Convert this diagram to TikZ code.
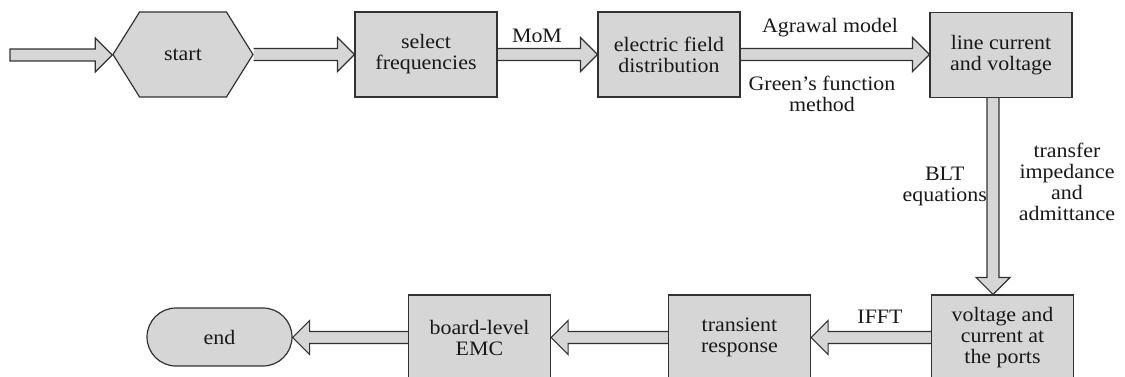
\documentclass[tikz,border=0pt]{standalone}
\usepackage{fontspec}
\setmainfont[FakeStretch=1.07]{Liberation Serif}
\usetikzlibrary{calc,shapes.symbols,shapes.misc,backgrounds}
\definecolor{boxfill}{RGB}{214,214,214}
\definecolor{edge}{RGB}{50,50,50}
\tikzset{
  base/.style={draw=edge, fill=boxfill, line width=1.2pt, font=\fontsize{20.5}{21}\selectfont, text=black!90, align=center, inner sep=0pt},
  box/.style={base, rectangle, minimum width=142pt, minimum height=85pt},
  lbl/.style={font=\fontsize{20.5}{21}\selectfont, text=black!90, align=center, inner sep=0pt},
  barrow/.style={draw=edge, fill=boxfill, line width=1.2pt, line join=miter},
}
\newcommand{\rarrow}[3][]{\path[barrow] let \p1=(#2), \p2=(#3) in (\x1,\y1+6pt) -- (\x2-17pt,\y1+6pt) -- (\x2-17pt,\y1+17pt) -- (\x2,\y1) -- (\x2-17pt,\y1-17pt) -- (\x2-17pt,\y1-6pt) -- (\x1,\y1-6pt) #1;}
\newcommand{\larrow}[3][]{\path[barrow] let \p1=(#2), \p2=(#3) in (\x1,\y1+6pt) -- (\x2+17pt,\y1+6pt) -- (\x2+17pt,\y1+17pt) -- (\x2,\y1) -- (\x2+17pt,\y1-17pt) -- (\x2+17pt,\y1-6pt) -- (\x1,\y1-6pt) #1;}
\newcommand{\darrow}[3][]{\path[barrow] let \p1=(#2), \p2=(#3) in (\x1-6pt,\y1) -- (\x1-6pt,\y2+17pt) -- (\x1-17pt,\y2+17pt) -- (\x1,\y2) -- (\x1+17pt,\y2+17pt) -- (\x1+6pt,\y2+17pt) -- (\x1+6pt,\y1) #1;}
\begin{document}
\begin{tikzpicture}[x=1pt,y=-1pt]
\useasboundingbox (0,0) rectangle (1125,377);
% nodes
\node[base, signal, signal to=east and west, signal pointer angle=116, minimum width=140pt, minimum height=85pt] (start) at (183,54.5) {start};
\node[box] (sf) at (426,54.5) {select\\frequencies};
\node[box] (ef) at (669,54.5) {electric field\\distribution};
\node[box] (lc) at (1001,55) {line current\\and voltage};
\node[box] (vc) at (1002.5,337.5) {voltage and\\current at\\the ports};
\node[box] (tr) at (739.5,337.5) {transient\\response};
\node[box] (be) at (479.5,337.5) {board-level\\EMC};
\node[base, rounded rectangle, minimum width=145pt, minimum height=58pt] (fin) at (219.5,337) {end};
\coordinate (in) at (10,55);
% labels
\node[lbl, anchor=base] (mom) at (537,43) {MoM};
\node[lbl, anchor=base] (agr) at (830,33) {Agrawal model};
\node[lbl] (grf) at (822,93.5) {Green’s function\\method};
\node[lbl, anchor=east] (blt) at (987,186) {BLT\\equations};
\node[lbl] (tia) at (1067,181.5) {transfer\\impedance\\and\\admittance};
\node[lbl, anchor=base] (ifft) at (880,323) {IFFT};
% block arrows
\begin{pgfonlayer}{background}
\rarrow[-- cycle]{in}{start.west}
\rarrow{start.east}{sf.west}
\rarrow{sf.east}{ef.west}
\rarrow{ef.east}{lc.west}
\darrow{$(lc.south)+(-8,0)$}{$(vc.north)+(-8,0)$}
\larrow{vc.west}{tr.east}
\larrow{tr.west}{be.east}
\larrow{be.west}{fin.east}
\end{pgfonlayer}
\end{tikzpicture}
\end{document}
